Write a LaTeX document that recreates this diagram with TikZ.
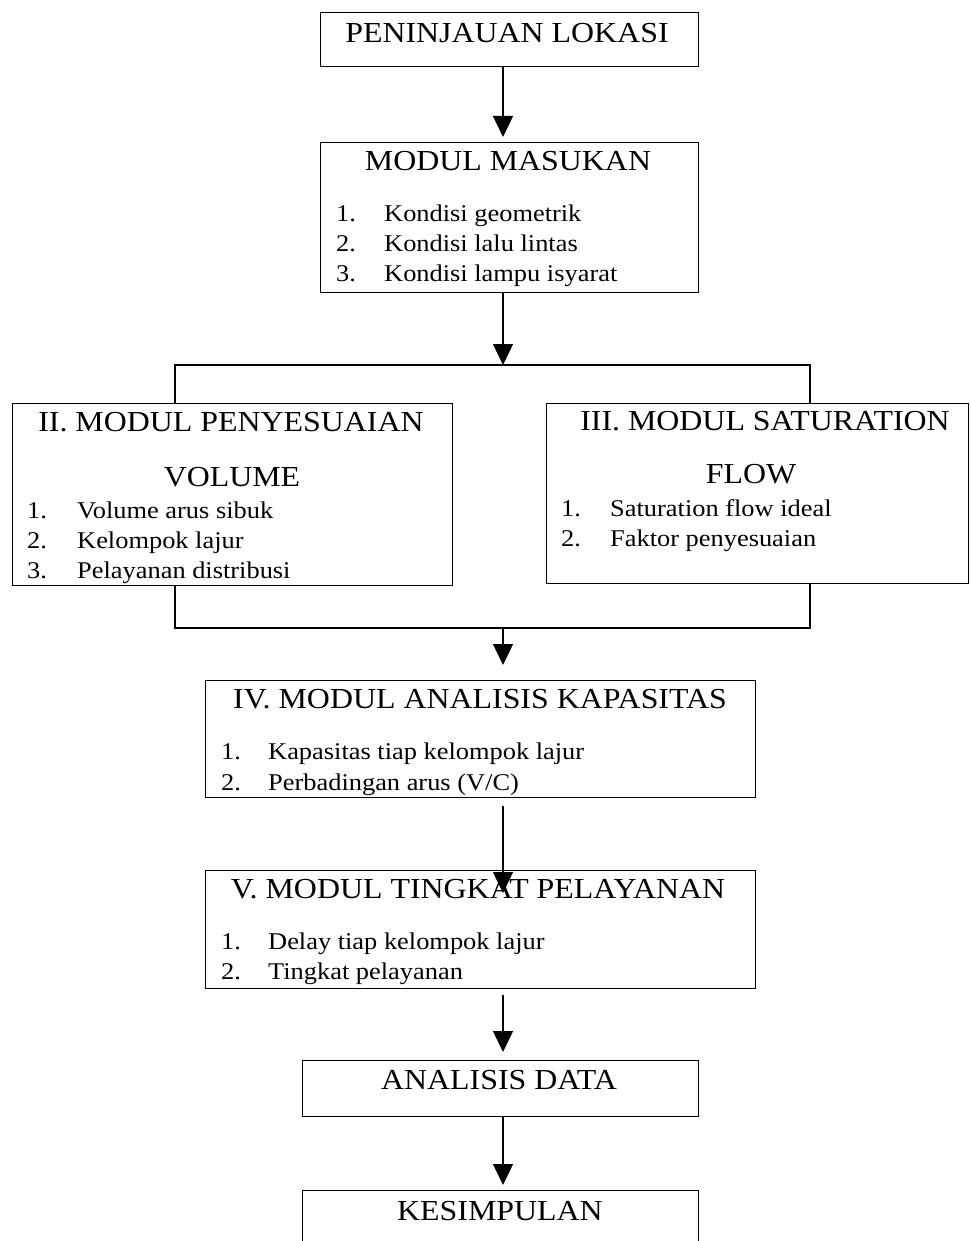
\documentclass[tikz,border=0pt]{standalone}
\usepackage{fontspec}
\setmainfont{Liberation Serif}[FakeStretch=1.1]
\usetikzlibrary{arrows.meta,calc}
\begin{document}
\begin{tikzpicture}[x=1pt,y=-1pt,
  box/.style={draw,line width=0.9pt,inner sep=0pt,outer sep=0pt},
  conn/.style={line width=1.4pt},
  arr/.style={line width=1.4pt,-{Triangle[width=20pt,length=21pt]}},
  ttl/.style={font=\fontsize{29}{34}\selectfont,inner sep=0pt,text height=19.2pt,text depth=0pt,anchor=center},
  itm/.style={font=\fontsize{24}{28}\selectfont,inner sep=0pt,text height=15.9pt,text depth=0pt,anchor=west}]
\clip (0,0) rectangle (970,1241);
\fill[white] (0,0) rectangle (970,1241);
% axis for the central arrows
\coordinate (ax) at (503,0);
% boxes
\node[box,minimum width=378pt,minimum height=54pt] (b1) at (509,39) {};
\node[box,minimum width=378pt,minimum height=150pt] (b2) at (509,217) {};
\node[box,minimum width=440pt,minimum height=182pt] (b3) at (232,494) {};
\node[box,minimum width=422pt,minimum height=180pt] (b4) at (757,493) {};
\node[box,minimum width=550pt,minimum height=117pt] (b5) at (480,738.5) {};
\node[box,minimum width=550pt,minimum height=118pt] (b6) at (480,929) {};
\node[box,minimum width=396pt,minimum height=56pt] (b7) at (500,1088) {};
\node[box,minimum width=396pt,minimum height=60pt] (b8) at (500,1220) {};
% texts
\node[ttl] (t1) at (507,33) {PENINJAUAN LOKASI};
\node[ttl] (t2) at (508,161) {MODUL MASUKAN};
\node[itm] (n21) at (336,214) {1.};
\node[itm] (i21) at (384,214) {Kondisi geometrik};
\node[itm] (n22) at (336,244) {2.};
\node[itm] (i22) at (384,244) {Kondisi lalu lintas};
\node[itm] (n23) at (336,274) {3.};
\node[itm] (i23) at (384,274) {Kondisi lampu isyarat};
\node[ttl] (t3a) at (231,422) {II. MODUL PENYESUAIAN};
\node[ttl] (t3b) at (232,477) {VOLUME};
\node[itm] (n31) at (27,511) {1.};
\node[itm] (i31) at (77,511) {Volume arus sibuk};
\node[itm] (n32) at (27,541) {2.};
\node[itm] (i32) at (77,541) {Kelompok lajur};
\node[itm] (n33) at (27,571) {3.};
\node[itm] (i33) at (77,571) {Pelayanan distribusi};
\node[ttl] (t4a) at (765,421) {III. MODUL SATURATION};
\node[ttl] (t4b) at (751,474) {FLOW};
\node[itm] (n41) at (561,509) {1.};
\node[itm] (i41) at (610,509) {Saturation flow ideal};
\node[itm] (n42) at (561,539) {2.};
\node[itm] (i42) at (610,539) {Faktor penyesuaian};
\node[ttl] (t5) at (480,699) {IV. MODUL ANALISIS KAPASITAS};
\node[itm] (n51) at (221,752) {1.};
\node[itm] (i51) at (268,752) {Kapasitas tiap kelompok lajur};
\node[itm] (n52) at (221,783) {2.};
\node[itm] (i52) at (268,783) {Perbadingan arus (V/C)};
\node[ttl] (t6) at (478,889) {V. MODUL TINGKAT PELAYANAN};
\node[itm] (n61) at (221,942) {1.};
\node[itm] (i61) at (268,942) {Delay tiap kelompok lajur};
\node[itm] (n62) at (221,972) {2.};
\node[itm] (i62) at (268,972) {Tingkat pelayanan};
\node[ttl] (t7) at (499,1080) {ANALISIS DATA};
\node[ttl] (t8) at (500,1211) {KESIMPULAN};
% connectors
\draw[arr] (b1.south -| ax) -- ($(b2.north -| ax)+(0,-5)$);
\coordinate (j) at (503,365);
\coordinate (jl) at (175,365);
\coordinate (jr) at (810,365);
\draw[arr] (b2.south -| ax) -- (j);
\draw[conn] (b3.north -| jl) -- (jl) -- (jr) -- (b4.north -| jr);
\coordinate (k) at (503,628);
\coordinate (kl) at (175,628);
\coordinate (kr) at (810,628);
\draw[conn] (b3.south -| kl) -- (kl) -- (kr) -- (b4.south -| kr);
\draw[arr] (k) -- ($(b5.north -| ax)+(0,-15)$);
\draw[arr] ($(b5.south -| ax)+(0,9)$) -- ($(b6.north -| ax)+(0,23)$);
\draw[arr] ($(b6.south -| ax)+(0,7)$) -- ($(b7.north -| ax)+(0,-8)$);
\draw[arr] (b7.south -| ax) -- ($(b8.north -| ax)+(0,-5)$);
\end{tikzpicture}
\end{document}
